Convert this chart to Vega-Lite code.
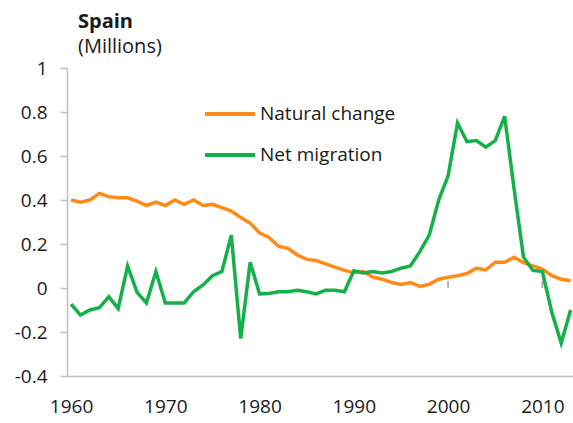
{
  "$schema": "https://vega.github.io/schema/vega-lite/v6.json",
  "width": 506,
  "height": 308,
  "autosize": {"type": "none"},
  "padding": {"left": 67, "top": 68, "right": 0, "bottom": 47},
  "background": "white",
  "config": {
    "view": {"stroke": null},
    "font": "Open Sans",
    "axis": {"labelFont": "Open Sans", "labelFontSize": 19, "labelColor": "#1a1a1a", "domainColor": "#c0c0c0", "domainWidth": 1.5, "tickColor": "#c0c0c0", "tickWidth": 1.5, "grid": false}
  },
  "title": {
    "text": "Spain",
    "subtitle": "(Millions)",
    "anchor": "start",
    "frame": "group",
    "dx": 11,
    "font": "Open Sans",
    "fontSize": 20,
    "fontWeight": "bold",
    "color": "#1a1a1a",
    "subtitleFont": "Open Sans",
    "subtitleFontSize": 20,
    "subtitleColor": "#1a1a1a",
    "subtitlePadding": 5,
    "offset": 2
  },
  "datasets": {
    "series": [
      {"year": 1960, "series": "Natural change", "value": 0.40},
      {"year": 1961, "series": "Natural change", "value": 0.39},
      {"year": 1962, "series": "Natural change", "value": 0.40},
      {"year": 1963, "series": "Natural change", "value": 0.43},
      {"year": 1964, "series": "Natural change", "value": 0.415},
      {"year": 1965, "series": "Natural change", "value": 0.41},
      {"year": 1966, "series": "Natural change", "value": 0.41},
      {"year": 1967, "series": "Natural change", "value": 0.395},
      {"year": 1968, "series": "Natural change", "value": 0.375},
      {"year": 1969, "series": "Natural change", "value": 0.39},
      {"year": 1970, "series": "Natural change", "value": 0.375},
      {"year": 1971, "series": "Natural change", "value": 0.40},
      {"year": 1972, "series": "Natural change", "value": 0.38},
      {"year": 1973, "series": "Natural change", "value": 0.40},
      {"year": 1974, "series": "Natural change", "value": 0.375},
      {"year": 1975, "series": "Natural change", "value": 0.38},
      {"year": 1976, "series": "Natural change", "value": 0.365},
      {"year": 1977, "series": "Natural change", "value": 0.35},
      {"year": 1978, "series": "Natural change", "value": 0.32},
      {"year": 1979, "series": "Natural change", "value": 0.295},
      {"year": 1980, "series": "Natural change", "value": 0.25},
      {"year": 1981, "series": "Natural change", "value": 0.23},
      {"year": 1982, "series": "Natural change", "value": 0.19},
      {"year": 1983, "series": "Natural change", "value": 0.18},
      {"year": 1984, "series": "Natural change", "value": 0.15},
      {"year": 1985, "series": "Natural change", "value": 0.13},
      {"year": 1986, "series": "Natural change", "value": 0.125},
      {"year": 1987, "series": "Natural change", "value": 0.11},
      {"year": 1988, "series": "Natural change", "value": 0.095},
      {"year": 1989, "series": "Natural change", "value": 0.08},
      {"year": 1990, "series": "Natural change", "value": 0.07},
      {"year": 1991, "series": "Natural change", "value": 0.075},
      {"year": 1992, "series": "Natural change", "value": 0.05},
      {"year": 1993, "series": "Natural change", "value": 0.04},
      {"year": 1994, "series": "Natural change", "value": 0.025},
      {"year": 1995, "series": "Natural change", "value": 0.016},
      {"year": 1996, "series": "Natural change", "value": 0.025},
      {"year": 1997, "series": "Natural change", "value": 0.007},
      {"year": 1998, "series": "Natural change", "value": 0.017},
      {"year": 1999, "series": "Natural change", "value": 0.04},
      {"year": 2000, "series": "Natural change", "value": 0.049},
      {"year": 2001, "series": "Natural change", "value": 0.056},
      {"year": 2002, "series": "Natural change", "value": 0.066},
      {"year": 2003, "series": "Natural change", "value": 0.09},
      {"year": 2004, "series": "Natural change", "value": 0.082},
      {"year": 2005, "series": "Natural change", "value": 0.117},
      {"year": 2006, "series": "Natural change", "value": 0.117},
      {"year": 2007, "series": "Natural change", "value": 0.14},
      {"year": 2008, "series": "Natural change", "value": 0.115},
      {"year": 2009, "series": "Natural change", "value": 0.10},
      {"year": 2010, "series": "Natural change", "value": 0.086},
      {"year": 2011, "series": "Natural change", "value": 0.056},
      {"year": 2012, "series": "Natural change", "value": 0.04},
      {"year": 2013, "series": "Natural change", "value": 0.033},
      {"year": 1960, "series": "Net migration", "value": -0.073},
      {"year": 1961, "series": "Net migration", "value": -0.123},
      {"year": 1962, "series": "Net migration", "value": -0.10},
      {"year": 1963, "series": "Net migration", "value": -0.09},
      {"year": 1964, "series": "Net migration", "value": -0.04},
      {"year": 1965, "series": "Net migration", "value": -0.093},
      {"year": 1966, "series": "Net migration", "value": 0.10},
      {"year": 1967, "series": "Net migration", "value": -0.02},
      {"year": 1968, "series": "Net migration", "value": -0.068},
      {"year": 1969, "series": "Net migration", "value": 0.075},
      {"year": 1970, "series": "Net migration", "value": -0.068},
      {"year": 1971, "series": "Net migration", "value": -0.068},
      {"year": 1972, "series": "Net migration", "value": -0.068},
      {"year": 1973, "series": "Net migration", "value": -0.017},
      {"year": 1974, "series": "Net migration", "value": 0.014},
      {"year": 1975, "series": "Net migration", "value": 0.056},
      {"year": 1976, "series": "Net migration", "value": 0.075},
      {"year": 1977, "series": "Net migration", "value": 0.24},
      {"year": 1978, "series": "Net migration", "value": -0.23},
      {"year": 1979, "series": "Net migration", "value": 0.117},
      {"year": 1980, "series": "Net migration", "value": -0.027},
      {"year": 1981, "series": "Net migration", "value": -0.025},
      {"year": 1982, "series": "Net migration", "value": -0.017},
      {"year": 1983, "series": "Net migration", "value": -0.017},
      {"year": 1984, "series": "Net migration", "value": -0.01},
      {"year": 1985, "series": "Net migration", "value": -0.017},
      {"year": 1986, "series": "Net migration", "value": -0.027},
      {"year": 1987, "series": "Net migration", "value": -0.01},
      {"year": 1988, "series": "Net migration", "value": -0.01},
      {"year": 1989, "series": "Net migration", "value": -0.017},
      {"year": 1990, "series": "Net migration", "value": 0.078},
      {"year": 1991, "series": "Net migration", "value": 0.068},
      {"year": 1992, "series": "Net migration", "value": 0.075},
      {"year": 1993, "series": "Net migration", "value": 0.068},
      {"year": 1994, "series": "Net migration", "value": 0.075},
      {"year": 1995, "series": "Net migration", "value": 0.09},
      {"year": 1996, "series": "Net migration", "value": 0.10},
      {"year": 1997, "series": "Net migration", "value": 0.165},
      {"year": 1998, "series": "Net migration", "value": 0.24},
      {"year": 1999, "series": "Net migration", "value": 0.40},
      {"year": 2000, "series": "Net migration", "value": 0.51},
      {"year": 2001, "series": "Net migration", "value": 0.75},
      {"year": 2002, "series": "Net migration", "value": 0.665},
      {"year": 2003, "series": "Net migration", "value": 0.67},
      {"year": 2004, "series": "Net migration", "value": 0.64},
      {"year": 2005, "series": "Net migration", "value": 0.67},
      {"year": 2006, "series": "Net migration", "value": 0.78},
      {"year": 2007, "series": "Net migration", "value": 0.45},
      {"year": 2008, "series": "Net migration", "value": 0.14},
      {"year": 2009, "series": "Net migration", "value": 0.08},
      {"year": 2010, "series": "Net migration", "value": 0.075},
      {"year": 2011, "series": "Net migration", "value": -0.11},
      {"year": 2012, "series": "Net migration", "value": -0.25},
      {"year": 2013, "series": "Net migration", "value": -0.10}
    ],
    "ticks": [{"year": 2000}, {"year": 2010}]
  },
  "layer": [
    {
      "mark": {"type": "rule", "color": "#c0c0c0", "strokeWidth": 1.5},
      "encoding": {"y": {"datum": 1, "type": "quantitative"}}
    },
    {
      "mark": {"type": "rule", "color": "#b3b3b3", "strokeWidth": 2},
      "encoding": {"y": {"datum": 0, "type": "quantitative"}}
    },
    {
      "data": {"name": "ticks"},
      "mark": {"type": "rule", "color": "#b3b3b3", "strokeWidth": 2},
      "encoding": {
        "x": {"field": "year", "type": "quantitative"},
        "y": {"datum": 0, "type": "quantitative"},
        "y2": {"datum": 0.032}
      }
    },
    {
      "data": {"name": "series"},
      "mark": {"type": "line", "strokeWidth": 3.5},
      "encoding": {
        "x": {
          "field": "year",
          "type": "quantitative",
          "scale": {"domain": [1959.57, 2013.25], "nice": false, "zero": false},
          "axis": {"title": null, "values": [1960, 1970, 1980, 1990, 2000, 2010], "format": "d", "ticks": false, "labelPadding": 21}
        },
        "y": {
          "field": "value",
          "type": "quantitative",
          "scale": {"domain": [-0.4, 1], "nice": false},
          "axis": {"title": null, "values": [-0.4, -0.2, 0, 0.2, 0.4, 0.6, 0.8, 1], "labelExpr": "'' + datum.value", "tickSize": 7, "labelPadding": 13}
        },
        "color": {
          "field": "series",
          "type": "nominal",
          "scale": {"domain": ["Natural change", "Net migration"], "range": ["#ff8c1a", "#14b04a"]},
          "legend": {"title": null, "orient": "none", "legendX": 136, "legendY": 36, "symbolType": "stroke", "symbolSize": 2500, "symbolStrokeWidth": 4, "clipHeight": 20, "rowPadding": 21, "labelFontSize": 19, "labelFont": "Open Sans", "labelColor": "#1a1a1a", "labelOffset": 3, "padding": 0}
        }
      }
    }
  ]
}
